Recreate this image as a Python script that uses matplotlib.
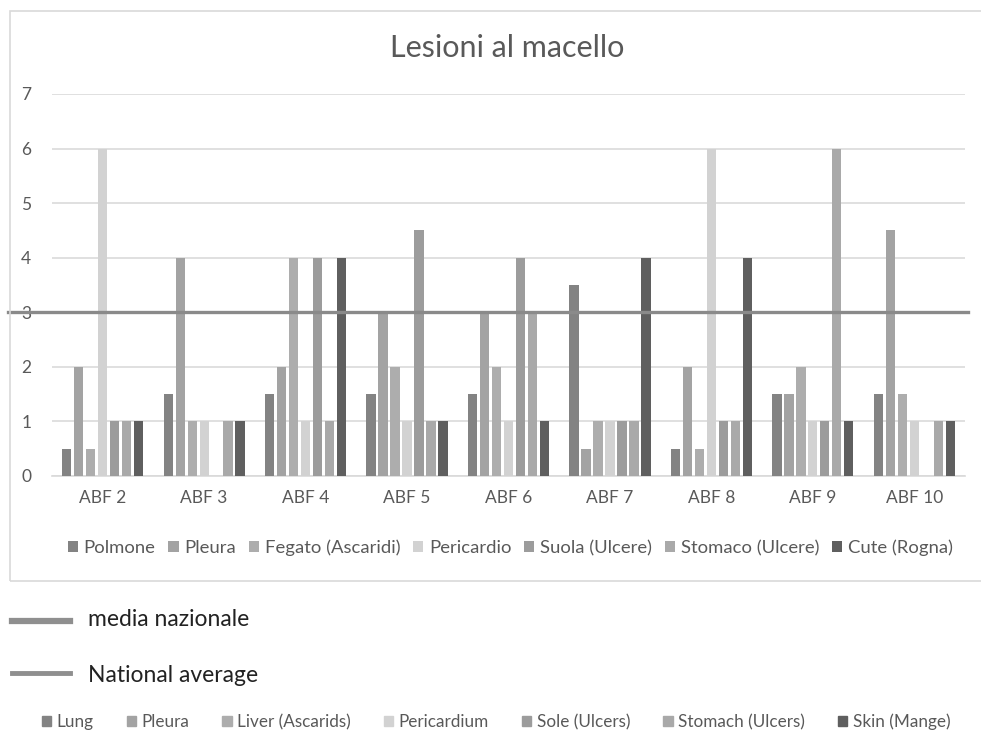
import matplotlib.pyplot as plt
import matplotlib.patches as mpatches
from matplotlib.lines import Line2D
import numpy as np

plt.rcParams['font.family'] = ['Lato', 'DejaVu Sans']

# aziende e lesioni
farms = ['ABF 2', 'ABF 3', 'ABF 4', 'ABF 5', 'ABF 6', 'ABF 7', 'ABF 8', 'ABF 9', 'ABF 10']
lesions_it = ['Polmone', 'Pleura', 'Fegato (Ascaridi)', 'Pericardio',
              'Suola (Ulcere)', 'Stomaco (Ulcere)', 'Cute (Rogna)']
lesions_en = ['Lung', 'Pleura', 'Liver (Ascarids)', 'Pericardium',
              'Sole (Ulcers)', 'Stomach (Ulcers)', 'Skin (Mange)']

polmone = [0.5, 1.5, 1.5, 1.5, 1.5, 3.5, 0.5, 1.5, 1.5]
pleura = [2, 4, 2, 3, 3, 0.5, 2, 1.5, 4.5]
fegato = [0.5, 1, 4, 2, 2, 1, 0.5, 2, 1.5]
pericardio = [6, 1, 1, 1, 1, 1, 6, 1, 1]
suola = [1, 0, 4, 4.5, 4, 1, 1, 1, 0]
stomaco = [1, 1, 1, 1, 3, 1, 1, 6, 1]
cute = [1, 1, 4, 1, 1, 4, 4, 1, 1]
media_nazionale = 3

series = [polmone, pleura, fegato, pericardio, suola, stomaco, cute]
colors = ['#838383', '#a3a3a3', '#adadad', '#d2d2d2', '#9c9c9c', '#a9a9a9', '#5f5f5f']

fig = plt.figure(figsize=(9.81, 7.38), dpi=100)
W, H = 981, 738

# cornice del grafico
fig.patches.append(mpatches.Rectangle((10 / W, 1 - 581 / H), 1.0, (581 - 11) / H,
                                      transform=fig.transFigure, fill=False,
                                      edgecolor='#d9d9d9', lw=1.2))

ax = fig.add_axes([52 / W, 1 - 476 / H, 913 / W, (476 - 94) / H])
x = np.arange(len(farms))
step = 0.118
bw = 0.092
for i, (vals, c) in enumerate(zip(series, colors)):
    ax.bar(x + (i - 3) * step, vals, bw, color=c, label=lesions_it[i], zorder=3)

ax.axhline(media_nazionale, xmin=-0.048, xmax=1.003, color='#8a8a8a', lw=2.4,
           zorder=4, clip_on=False)

ax.set_xlim(-0.5, len(farms) - 0.5)
ax.set_ylim(0, 7)
ax.set_yticks(range(8))
ax.set_xticks(x)
ax.set_xticklabels(farms)
ax.grid(axis='y', color='#dadada', lw=1.2, zorder=0)
for s in ['top', 'right', 'left']:
    ax.spines[s].set_visible(False)
ax.spines['bottom'].set_color('#d9d9d9')
ax.spines['bottom'].set_linewidth(1.2)
ax.tick_params(length=0, labelsize=12.5, colors='#595959', pad=10)
ax.tick_params(axis='y', pad=15)

fig.text(507 / W, 1 - 48 / H, 'Lesioni al macello', ha='center', va='center',
         fontsize=22, color='#595959')

leg = ax.legend(loc='center', bbox_to_anchor=(0.502, (476 - 548) / (476 - 94)),
                ncol=7, frameon=False, fontsize=13.3, handlelength=0.55,
                handleheight=0.55, handletextpad=0.3, columnspacing=0.7)
for t in leg.get_texts():
    t.set_color('#595959')

# legenda esterna
fig.add_artist(Line2D([12 / W, 70 / W], [1 - 621 / H] * 2, color='#8f8f8f', lw=4.5,
                      transform=fig.transFigure))
fig.text(88 / W, 1 - 619 / H, 'media nazionale', va='center', fontsize=16.5, color='#222222')
fig.add_artist(Line2D([12 / W, 70 / W], [1 - 673 / H] * 2, color='#8f8f8f', lw=3.5,
                      transform=fig.transFigure))
fig.text(88 / W, 1 - 675 / H, 'National average', va='center', fontsize=16.5, color='#222222')

handles = [mpatches.Patch(color=c) for c in colors]
leg2 = fig.legend(handles, lesions_en, loc='center', bbox_to_anchor=(496 / W, 1 - 722 / H),
                  ncol=7, frameon=False, fontsize=12.3, handlelength=0.55, handleheight=0.55,
                  handletextpad=0.3, columnspacing=1.95)
for t in leg2.get_texts():
    t.set_color('#595959')

fig.savefig('out.png', dpi=100, facecolor='white')
